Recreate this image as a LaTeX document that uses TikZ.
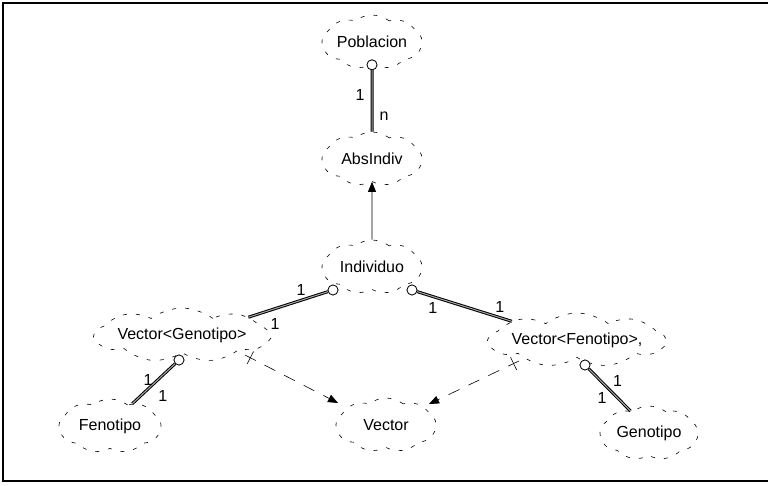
\documentclass[tikz,border=0pt]{standalone}
\usepackage{fontspec}
\setmainfont{Liberation Sans}
\usetikzlibrary{shapes.symbols, arrows.meta, decorations.markings}

\tikzset{
  clase/.style={cloud, cloud puffs=9, cloud puff arc=75, cloud ignores aspect,
    draw, dash pattern=on 4pt off 9pt, line width=0.6pt,
    minimum width=#1, minimum height=54pt, inner sep=0pt,
    font=\fontsize{16}{18}\selectfont},
  clase/.default=100pt,
  tiene/.style={double=gray!70, double distance=1pt, line width=1pt},
  hueco/.style={circle, draw, fill=white, line width=0.7pt, minimum size=10pt, inner sep=0pt},
  hereda/.style={-{Triangle[length=10pt,width=8pt]}, line width=0.6pt},
  instancia/.style={-{Triangle[length=10pt,width=8pt]}, line width=0.6pt,
    dash pattern=on 12pt off 10pt, postaction={decorate},
    decoration={markings, mark=at position 6pt with {\draw[solid, -] (0,-7pt) -- (0,7pt);}}},
  card/.style={font=\fontsize{16}{18}\selectfont, inner sep=1pt}
}

\begin{document}
\begin{tikzpicture}[x=1pt, y=-1pt]
    \useasboundingbox (0,0) rectangle (768,486);
    % marco
    \draw[line width=1.3pt] (768,3) -- (3,3) -- (3,481) -- (768,481);

    % clases
    \node[clase] (pob) at (372, 42) {Poblacion};
    \node[clase] (abs) at (372,159) {AbsIndiv};
    \node[clase] (ind) at (372,267) {Individuo};
    \node[clase=142pt] (vg) at (182,335) {Vector<Genotipo>};
    \node[clase=142pt] (vf) at (577,340) {Vector<Fenotipo>,};
    \node[clase=102pt] (fen) at (110,426) {Fenotipo};
    \node[clase] (vec) at (386,425) {Vector};
    \node[clase=98pt] (gen) at (649,433) {Genotipo};

    % puntos de enganche en el borde
    \coordinate (vgx)  at ([shift={(63,20)}]vg.center);
    \coordinate (vfx)  at ([shift={(-58,21)}]vf.center);
    \coordinate (vecl) at ([shift={(-48,-22)}]vec.center);
    \coordinate (vecr) at ([shift={(43,-21)}]vec.center);

    % herencia
    \draw[hereda] (ind.north) -- (abs.south);

    % relaciones "tiene"
    \node[hueco] (pobh) at (pob.south) {};
    \draw[tiene] (pobh) -- (abs.north)
        node[card, pos=0.4, left=6pt] {1}
        node[card, pos=0.75, right=6pt] {n};
    \node[hueco] at (pobh) {};

    \node[hueco] (indl) at ([shift={(-39,23)}]ind.center) {};
    \draw[tiene] (indl) -- (vg.15)
        node[card, pos=0.25, above left=1pt] {1}
        node[card, pos=0.8, below right=5pt] {1};
    \node[hueco] at (indl) {};

    \node[hueco] (indr) at ([shift={(40,23)}]ind.center) {};
    \draw[tiene] (indr) -- (vf.164)
        node[card, pos=0.25, below left=2pt] {1}
        node[card, pos=0.8, above right=1pt] {1};
    \node[hueco] at (indr) {};

    \node[hueco] (vgh) at ([shift={(-3,25)}]vg.center) {};
    \draw[tiene] (vgh) -- (fen.45)
        node[card, pos=0.4, left=4pt] {1}
        node[card, pos=0.8, right=16pt] {1};
    \node[hueco] at (vgh) {};

    \node[hueco] (vfh) at ([shift={(8,25)}]vf.center) {};
    \draw[tiene] (vfh) -- (gen.130)
        node[card, pos=0.5, above right=2pt] {1}
        node[card, pos=0.7, left=10pt] {1};
    \node[hueco] at (vfh) {};

    % instanciacion
    \draw[instancia] (vgx) -- (vecl);
    \draw[instancia] (vfx) -- (vecr);
\end{tikzpicture}
\end{document}
